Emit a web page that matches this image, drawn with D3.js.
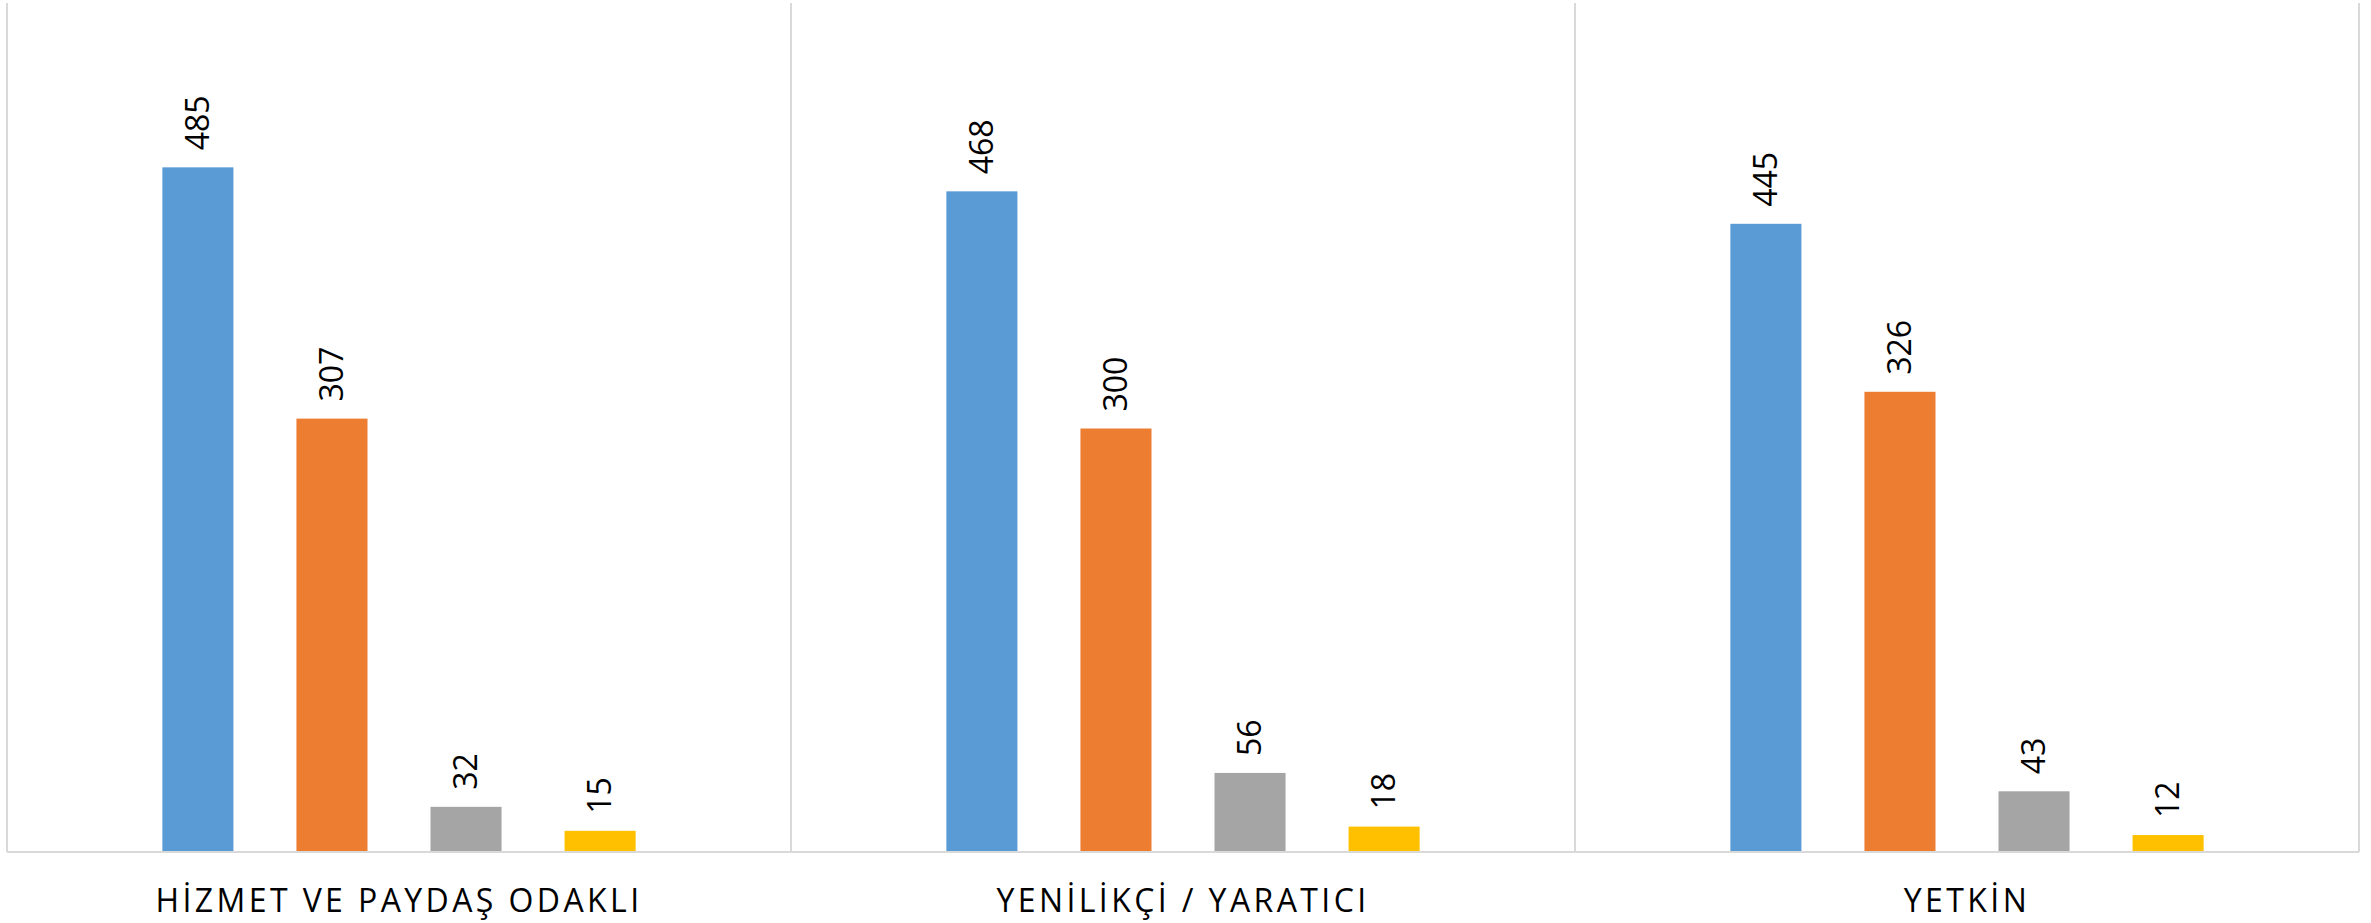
<!DOCTYPE html>
<html>
<head>
<meta charset="utf-8">
<script src="https://cdn.jsdelivr.net/npm/d3@7"></script>
<style>
  body { margin: 0; background: #fff; }
  svg { display: block; }
</style>
</head>
<body>
<div id="chart"></div>
<script>
var categories = ['HİZMET VE PAYDAŞ ODAKLI', 'YENİLİKÇİ / YARATICI', 'YETKİN'];
var seriesNames = ['s1', 's2', 's3', 's4'];
var series1 = [485, 468, 445];
var series2 = [307, 300, 326];
var series3 = [32, 56, 43];
var series4 = [15, 18, 12];
var colors = ['#5B9BD5', '#ED7D31', '#A5A5A5', '#FFC000'];

var width = 2371;
var height = 923;
var plotLeft = 7;
var plotRight = 2359;
var plotTop = 3;
var baseY = 852;

var allSeries = [series1, series2, series3, series4];

var svg = d3.select('#chart').append('svg')
    .attr('width', width)
    .attr('height', height);

var x0 = d3.scaleBand()
    .domain(categories)
    .range([plotLeft, plotRight])
    .paddingInner(0.316)
    .paddingOuter(0.158);

var x1 = d3.scaleBand()
    .domain(seriesNames)
    .range([0, x0.bandwidth()])
    .paddingInner(0.47)
    .paddingOuter(0.235);

var y = d3.scaleLinear()
    .domain([0, 600])
    .range([baseY, 5]);

// vertical gridlines between categories
var step = x0.step();
var bounds = [];
for (var i = 0; i <= categories.length; i++) {
    bounds.push(plotLeft + i * step);
}
svg.selectAll('line.vgrid').data(bounds).enter().append('line')
    .attr('class', 'vgrid')
    .attr('x1', function (d) { return d; })
    .attr('x2', function (d) { return d; })
    .attr('y1', plotTop)
    .attr('y2', baseY)
    .style('stroke', '#D9D9D9')
    .style('stroke-width', '2px');

// bars
var rows = [];
categories.forEach(function (c, ci) {
    seriesNames.forEach(function (s, si) {
        rows.push({cat: c, ser: s, si: si, value: allSeries[si][ci]});
    });
});

svg.selectAll('rect.bar').data(rows).enter().append('rect')
    .attr('class', 'bar')
    .attr('x', function (d) { return x0(d.cat) + x1(d.ser); })
    .attr('y', function (d) { return y(d.value); })
    .attr('width', x1.bandwidth())
    .attr('height', function (d) { return baseY - y(d.value); })
    .style('fill', function (d) { return colors[d.si]; });

// value labels, rotated
svg.selectAll('text.val').data(rows).enter().append('text')
    .attr('class', 'val')
    .attr('transform', function (d) {
        var cx = x0(d.cat) + x1(d.ser) + x1.bandwidth() / 2;
        return 'translate(' + cx + ',' + (y(d.value) - 17) + ') rotate(-90)';
    })
    .attr('dy', '0.35em')
    .style('font-family', 'Open Sans, sans-serif')
    .style('font-size', '32px')
    .style('fill', '#000')
    .text(function (d) { return d.value; });

// x axis line
svg.append('line')
    .attr('x1', plotLeft)
    .attr('x2', plotLeft + categories.length * step)
    .attr('y1', baseY)
    .attr('y2', baseY)
    .style('stroke', '#D9D9D9')
    .style('stroke-width', '2px');

// category labels
svg.selectAll('text.cat').data(categories).enter().append('text')
    .attr('class', 'cat')
    .attr('x', function (d) { return x0(d) + x0.bandwidth() / 2; })
    .attr('y', 912)
    .attr('text-anchor', 'middle')
    .style('font-family', 'Open Sans, sans-serif')
    .style('font-size', '32px')
    .style('letter-spacing', '3.4px')
    .style('fill', '#000')
    .text(function (d) { return d; });
</script>
</body>
</html>
